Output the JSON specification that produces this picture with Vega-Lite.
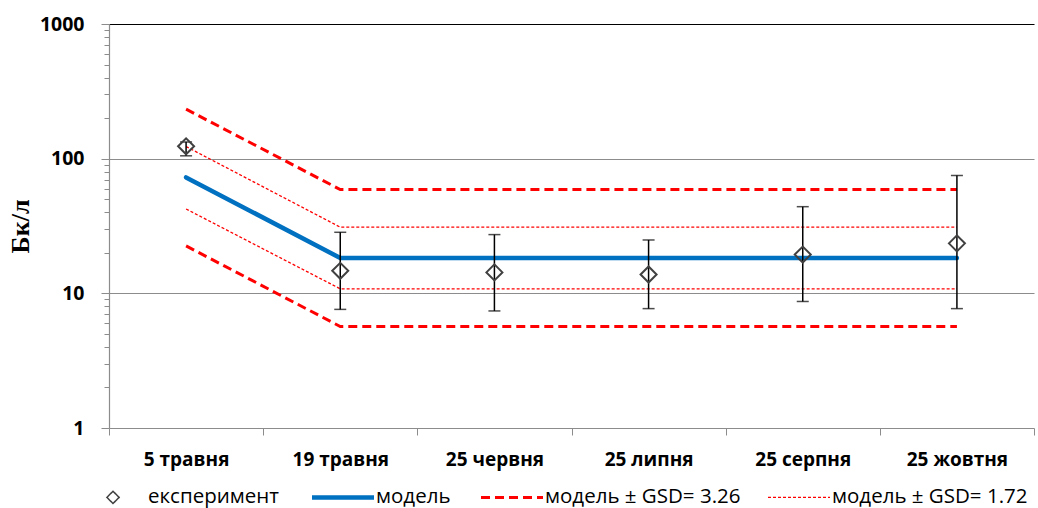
{
  "$schema": "https://vega.github.io/schema/vega-lite/v6.json",
  "width": 925,
  "height": 404,
  "autosize": {"type": "none"},
  "padding": {"left": 109, "top": 24, "right": 4, "bottom": 80},
  "background": "white",
  "config": {"view": {"stroke": null}, "font": "Open Sans"},
  "datasets": {
    "model": [
      {"date": "5 травня", "value": 72.6, "series": "модель"},
      {"date": "19 травня", "value": 18.3, "series": "модель"},
      {"date": "25 червня", "value": 18.3, "series": "модель"},
      {"date": "25 липня", "value": 18.3, "series": "модель"},
      {"date": "25 серпня", "value": 18.3, "series": "модель"},
      {"date": "25 жовтня", "value": 18.3, "series": "модель"}
    ],
    "gsd326": [
      {"date": "5 травня", "value": 233, "line": "u", "series": "модель ± GSD= 3.26"},
      {"date": "19 травня", "value": 59, "line": "u", "series": "модель ± GSD= 3.26"},
      {"date": "25 червня", "value": 59, "line": "u", "series": "модель ± GSD= 3.26"},
      {"date": "25 липня", "value": 59, "line": "u", "series": "модель ± GSD= 3.26"},
      {"date": "25 серпня", "value": 59, "line": "u", "series": "модель ± GSD= 3.26"},
      {"date": "25 жовтня", "value": 59, "line": "u", "series": "модель ± GSD= 3.26"},
      {"date": "5 травня", "value": 22.5, "line": "l", "series": "модель ± GSD= 3.26"},
      {"date": "19 травня", "value": 5.67, "line": "l", "series": "модель ± GSD= 3.26"},
      {"date": "25 червня", "value": 5.67, "line": "l", "series": "модель ± GSD= 3.26"},
      {"date": "25 липня", "value": 5.67, "line": "l", "series": "модель ± GSD= 3.26"},
      {"date": "25 серпня", "value": 5.67, "line": "l", "series": "модель ± GSD= 3.26"},
      {"date": "25 жовтня", "value": 5.67, "line": "l", "series": "модель ± GSD= 3.26"}
    ],
    "gsd172": [
      {"date": "5 травня", "value": 123, "line": "u", "series": "модель ± GSD= 1.72"},
      {"date": "19 травня", "value": 31, "line": "u", "series": "модель ± GSD= 1.72"},
      {"date": "25 червня", "value": 31, "line": "u", "series": "модель ± GSD= 1.72"},
      {"date": "25 липня", "value": 31, "line": "u", "series": "модель ± GSD= 1.72"},
      {"date": "25 серпня", "value": 31, "line": "u", "series": "модель ± GSD= 1.72"},
      {"date": "25 жовтня", "value": 31, "line": "u", "series": "модель ± GSD= 1.72"},
      {"date": "5 травня", "value": 42.3, "line": "l", "series": "модель ± GSD= 1.72"},
      {"date": "19 травня", "value": 10.8, "line": "l", "series": "модель ± GSD= 1.72"},
      {"date": "25 червня", "value": 10.8, "line": "l", "series": "модель ± GSD= 1.72"},
      {"date": "25 липня", "value": 10.8, "line": "l", "series": "модель ± GSD= 1.72"},
      {"date": "25 серпня", "value": 10.8, "line": "l", "series": "модель ± GSD= 1.72"},
      {"date": "25 жовтня", "value": 10.8, "line": "l", "series": "модель ± GSD= 1.72"}
    ],
    "exp": [
      {"date": "5 травня", "value": 123.5, "lo": 105, "hi": 133, "series": "експеримент"},
      {"date": "19 травня", "value": 14.7, "lo": 7.6, "hi": 28.4, "series": "експеримент"},
      {"date": "25 червня", "value": 14.3, "lo": 7.4, "hi": 27.3, "series": "експеримент"},
      {"date": "25 липня", "value": 13.8, "lo": 7.7, "hi": 24.9, "series": "експеримент"},
      {"date": "25 серпня", "value": 19.4, "lo": 8.7, "hi": 44, "series": "експеримент"},
      {"date": "25 жовтня", "value": 23.5, "lo": 7.7, "hi": 75, "series": "експеримент"}
    ]
  },
  "layer": [
    {
      "data": {"name": "gsd326"},
      "mark": {"type": "line", "strokeWidth": 3, "strokeDash": [9, 5], "strokeCap": "butt"},
      "encoding": {
        "x": {
          "field": "date", "type": "ordinal", "title": null,
          "scale": {"domain": ["5 травня", "19 травня", "25 червня", "25 липня", "25 серпня", "25 жовтня"], "paddingInner": 0, "paddingOuter": 0},
          "axis": {
            "tickBand": "extent", "tickSize": 7, "tickColor": "#8c8c8c", "domainColor": "#8c8c8c", "domainWidth": 1.2,
            "labelFont": "Open Sans", "labelFontSize": 19, "labelFontWeight": "bold", "labelColor": "black",
            "labelPadding": 15, "labelAngle": 0, "grid": false
          }
        },
        "y": {
          "field": "value", "type": "quantitative", "title": "Бк/л",
          "scale": {"type": "log", "domain": [1, 1000]},
          "axis": {
            "values": [1, 2, 3, 4, 5, 6, 7, 8, 9, 10, 20, 30, 40, 50, 60, 70, 80, 90, 100, 200, 300, 400, 500, 600, 700, 800, 900, 1000],
            "labelExpr": "(datum.value==1||datum.value==10||datum.value==100||datum.value==1000) ? '' + datum.value : ''",
            "labelFont": "Open Sans", "labelFontSize": 19.5, "labelFontWeight": "bold", "labelColor": "black", "labelPadding": 17,
            "labelOverlap": false,
            "tickSize": {"condition": {"test": "datum.value==1||datum.value==10||datum.value==100||datum.value==1000", "value": 8}, "value": 5},
            "tickColor": "#8c8c8c", "domainColor": "#8c8c8c", "domainWidth": 1.2,
            "grid": true,
            "gridColor": {"condition": {"test": "datum.value==1000", "value": "#000000"}, "value": "#8c8c8c"},
            "gridOpacity": {"condition": {"test": "datum.value==10||datum.value==100||datum.value==1000", "value": 1}, "value": 0},
            "gridWidth": 1.2,
            "titleFont": "Liberation Serif", "titleFontSize": 26, "titleFontWeight": "bold", "titleColor": "black", "titlePadding": 6
          }
        },
        "detail": {"field": "line"},
        "color": {
          "field": "series", "type": "nominal",
          "scale": {"domain": ["експеримент", "модель", "модель ± GSD= 3.26", "модель ± GSD= 1.72"], "range": ["#404040", "#0070C0", "#FF0000", "#FF0000"]},
          "legend": {
            "title": null, "orient": "none", "legendX": -25, "legendY": 463, "direction": "horizontal",
            "labelFont": "Open Sans", "labelFontSize": 20.5, "labelColor": "black", "labelOffset": 2,
            "symbolSize": 3844, "symbolType": "stroke", "columnPadding": 24, "padding": 0, "labelLimit": 400,
            "encode": {
              "labels": {
                "update": {
                  "x": {"value": 64}
                }
              },
              "symbols": {
                "update": {
                  "x": {"signal": "datum.value === 'експеримент' ? 29 : 31"},
                  "shape": {"signal": "datum.value === 'експеримент' ? 'diamond' : 'stroke'"},
                  "size": {"signal": "datum.value === 'експеримент' ? 150 : 3844"},
                  "strokeDash": {"signal": "datum.value === 'модель ± GSD= 3.26' ? [9,5] : datum.value === 'модель ± GSD= 1.72' ? [3,2] : [1,0]"},
                  "strokeWidth": {"signal": "datum.value === 'експеримент' ? 1.5 : datum.value === 'модель' ? 4.5 : datum.value === 'модель ± GSD= 3.26' ? 3 : 1.2"},
                  "stroke": {"signal": "scale('color', datum.value)"},
                  "fill": {"value": "transparent"},
                  "opacity": {"value": 1}
                }
              }
            }
          }
        }
      }
    },
    {
      "data": {"name": "gsd172"},
      "mark": {"type": "line", "strokeWidth": 1.3, "strokeDash": [3, 2], "strokeCap": "butt"},
      "encoding": {
        "x": {"field": "date", "type": "ordinal"},
        "y": {"field": "value", "type": "quantitative", "title": "Бк/л"},
        "detail": {"field": "line"},
        "color": {"field": "series", "type": "nominal"}
      }
    },
    {
      "data": {"name": "model"},
      "mark": {"type": "line", "strokeWidth": 4.5, "strokeCap": "round"},
      "encoding": {
        "x": {"field": "date", "type": "ordinal"},
        "y": {"field": "value", "type": "quantitative", "title": "Бк/л"},
        "color": {"field": "series", "type": "nominal"}
      }
    },
    {
      "data": {"name": "exp"},
      "mark": {"type": "rule", "color": "black", "strokeWidth": 1.5},
      "encoding": {
        "x": {"field": "date", "type": "ordinal"},
        "y": {"field": "lo", "type": "quantitative", "title": "Бк/л"},
        "y2": {"field": "hi"}
      }
    },
    {
      "data": {"name": "exp"},
      "mark": {"type": "tick", "color": "black", "size": 12, "thickness": 1.5},
      "encoding": {
        "x": {"field": "date", "type": "ordinal"},
        "y": {"field": "lo", "type": "quantitative", "title": "Бк/л"}
      }
    },
    {
      "data": {"name": "exp"},
      "mark": {"type": "tick", "color": "black", "size": 12, "thickness": 1.5},
      "encoding": {
        "x": {"field": "date", "type": "ordinal"},
        "y": {"field": "hi", "type": "quantitative", "title": "Бк/л"}
      }
    },
    {
      "data": {"name": "exp"},
      "mark": {"type": "point", "shape": "diamond", "filled": false, "size": 256, "strokeWidth": 2, "opacity": 1},
      "encoding": {
        "x": {"field": "date", "type": "ordinal"},
        "y": {"field": "value", "type": "quantitative", "title": "Бк/л"},
        "color": {"field": "series", "type": "nominal"}
      }
    }
  ]
}
